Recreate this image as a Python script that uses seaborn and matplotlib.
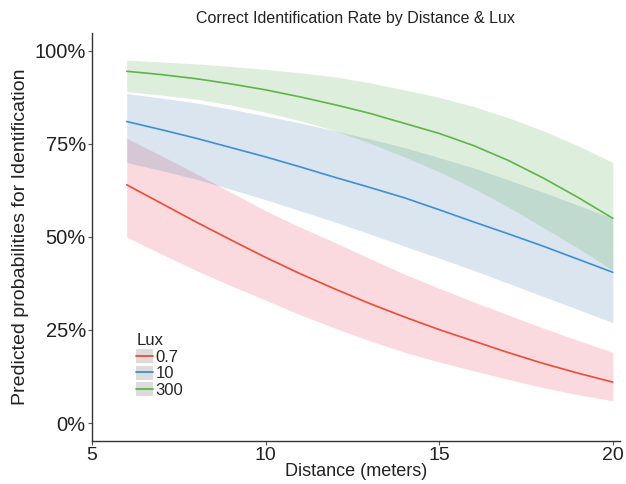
import seaborn as sns
import matplotlib.pyplot as plt
import pandas as pd
from matplotlib.patches import Patch
from matplotlib.lines import Line2D
from matplotlib.ticker import PercentFormatter

# data (percent)
distance = list(range(6, 21))
lux_levels = ["0.7", "10", "300"]

fit_07 = [64, 59, 54, 49.2, 44.5, 40.1, 36, 32.1, 28.5, 25.1, 22, 18.9, 16, 13.4, 11]
lo_07 = [50, 45.4, 41, 36.9, 33, 29.1, 25.5, 22.1, 19, 16.4, 14, 11.7, 9.5, 7.6, 6]
hi_07 = [76.5, 71.8, 67, 62, 57, 52.6, 48.5, 44.2, 40, 36.2, 32.5, 29, 25.5, 22.2, 19]

fit_10 = [81, 78.8, 76.5, 74, 71.5, 68.8, 66, 63.3, 60.5, 57.3, 54, 50.8, 47.5, 44, 40.5]
lo_10 = [70, 67.8, 65.5, 62.8, 60, 57, 54, 50.8, 47.5, 44.3, 41, 37.5, 34, 30.5, 27]
hi_10 = [88.5, 87.3, 86, 84.3, 82.5, 80.6, 78.5, 76.3, 74, 71.3, 68.5, 65.3, 62, 58.5, 55]

fit_300 = [94.5, 93.6, 92.5, 91.1, 89.5, 87.6, 85.5, 83.2, 80.5, 77.8, 74.5, 70.5, 65.8, 60.6, 55]
lo_300 = [89, 88.1, 87, 85.4, 83.5, 81.2, 78.5, 75.2, 71.5, 67.5, 63, 58, 52.5, 47, 41]
hi_300 = [97.5, 97, 96.5, 95.8, 95, 94.1, 93, 91.4, 89.5, 87.5, 85, 82, 78.5, 74.5, 70]

line_colors = ["#EE4B36", "#3D8FD6", "#5DB548"]
fill_colors = ["#E8465A", "#4A7FB5", "#5AAE50"]

df = pd.DataFrame({
    "Distance": distance * 3,
    "Lux": [l for l in lux_levels for _ in distance],
    "fit": fit_07 + fit_10 + fit_300,
    "lo": lo_07 + lo_10 + lo_300,
    "hi": hi_07 + hi_10 + hi_300,
})
df[["fit", "lo", "hi"]] = df[["fit", "lo", "hi"]] / 100

sns.set_theme(style="ticks")
plt.rcParams['font.family'] = ['Liberation Sans', 'DejaVu Sans']

fig = plt.figure(figsize=(6.26, 4.84), dpi=100)
ax = fig.add_axes([0.147, 0.089, 0.843, 0.843])

for lux, c in zip(lux_levels, fill_colors):
    sub = df[df["Lux"] == lux]
    ax.fill_between(sub["Distance"], sub["lo"], sub["hi"], color=c, alpha=0.2, lw=0)

sns.lineplot(data=df, x="Distance", y="fit", hue="Lux", palette=line_colors,
             linewidth=1.2, ax=ax, legend=False)

ax.set_xlim(5, 20.2)
ax.set_ylim(-0.048, 1.048)
ax.set_xticks([5, 10, 15, 20])
ax.set_yticks([0, 0.25, 0.5, 0.75, 1.0])
ax.yaxis.set_major_formatter(PercentFormatter(1.0, decimals=0))
ax.tick_params(labelsize=14.5, length=3, width=0.8, color="#555555", pad=1.5,
               labelcolor="#222222")
ax.tick_params(axis="x", labelsize=14)
ax.set_xlabel("Distance (meters)", fontsize=13, labelpad=-1, color="#222222")
ax.set_ylabel("Predicted probabilities for Identification", fontsize=14,
              labelpad=4, color="#222222")
ax.set_title("Correct Identification Rate by Distance & Lux", fontsize=11.5,
             pad=7, color="#222222")
sns.despine(ax=ax)
for s in ["left", "bottom"]:
    ax.spines[s].set_color("#333333")
    ax.spines[s].set_linewidth(1.0)

handles = [(Patch(facecolor="#dcdcdc", edgecolor="none"), Line2D([], [], color=c, lw=1.3))
           for c in line_colors]
leg = ax.legend(handles, lux_levels, title="Lux", loc="lower left",
                bbox_to_anchor=(0.068, 0.085), frameon=False, fontsize=12,
                title_fontsize=12, handlelength=1.0, handleheight=0.9,
                handletextpad=0.15, labelspacing=0.05, borderpad=0)
leg._legend_box.align = "left"
leg.get_title().set_color("#222222")

fig.savefig("out.png", dpi=100)
